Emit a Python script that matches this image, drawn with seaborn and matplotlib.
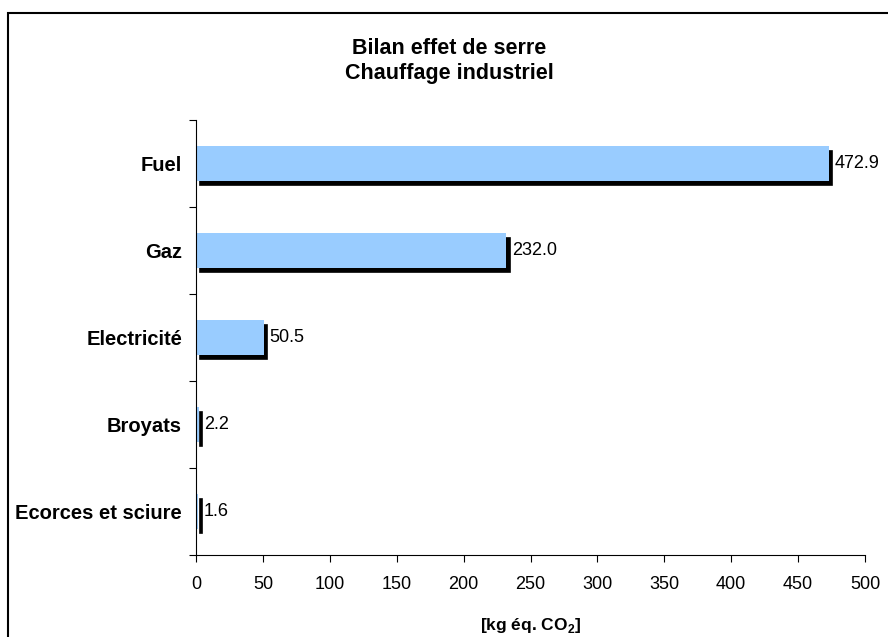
import matplotlib
matplotlib.use('Agg')
import matplotlib.pyplot as plt
import matplotlib.transforms as mtransforms
from matplotlib.patches import Rectangle
import pandas as pd
import seaborn as sns

categories = ['Fuel', 'Gaz', 'Electricité', 'Broyats', 'Ecorces et sciure']
values = [472.9, 232.0, 50.5, 2.2, 1.6]
x_ticks = [0, 50, 100, 150, 200, 250, 300, 350, 400, 450, 500]

df = pd.DataFrame({'source': categories, 'co2': values})

sns.set_style('white')
plt.rcParams['font.family'] = ['Liberation Sans', 'DejaVu Sans']
plt.rcParams['text.color'] = 'black'
plt.rcParams['xtick.color'] = 'black'
plt.rcParams['ytick.color'] = 'black'
plt.rcParams['axes.labelcolor'] = 'black'
plt.rcParams['mathtext.fontset'] = 'custom'
plt.rcParams['mathtext.bf'] = 'Liberation Sans:bold'
plt.rcParams['mathtext.rm'] = 'Liberation Sans'

fig = plt.figure(figsize=(8.88, 6.37), dpi=100)
ax = fig.add_axes([196 / 888, 1 - 555 / 637, (865 - 196) / 888, (555 - 120) / 637])

# black shadow bars, shifted a few pixels right and down
sns.barplot(data=df, x='co2', y='source', orient='h', color='black',
            width=0.4, saturation=1, ax=ax)
shift = mtransforms.ScaledTranslation(3.5 / 100, -4.5 / 100, fig.dpi_scale_trans)
for p in ax.patches:
    p.set_transform(ax.transData + shift)
    p.set_edgecolor('black')
    p.set_linewidth(1.2)
n_shadow = len(ax.patches)

sns.barplot(data=df, x='co2', y='source', orient='h', color='#99CCFF',
            width=0.4, saturation=1, ax=ax)
for p in ax.patches[n_shadow:]:
    p.set_linewidth(0)

ax.bar_label(ax.containers[-1], labels=[f'{v:.1f}' for v in values],
             padding=4, fontsize=13)

ax.set_xlim(0, 500)
ax.set_ylim(len(categories) - 0.5, -0.5)
ax.set_xticks(x_ticks)
ax.set_yticks(range(len(categories)))
ax.set_yticks([i - 0.5 for i in range(len(categories) + 1)], minor=True)
ax.tick_params(axis='y', which='major', length=0, pad=10, labelsize=14.5)
ax.tick_params(axis='y', which='minor', length=5, width=0.8, direction='out', left=True)
ax.tick_params(axis='x', length=5, width=0.8, direction='out', bottom=True, labelsize=13, pad=10)
for lab in ax.get_yticklabels():
    lab.set_fontweight('bold')

ax.set_ylabel('')
ax.set_xlabel(r'[kg éq. CO$_{\mathbf{2}}$]', fontsize=12.5, fontweight='bold', labelpad=17)

for side in ['top', 'right']:
    ax.spines[side].set_visible(False)
for side in ['left', 'bottom']:
    ax.spines[side].set_color('black')
    ax.spines[side].set_linewidth(0.8)

fig.text(449 / 888, 1 - 61 / 637, 'Bilan effet de serre\nChauffage industriel',
         ha='center', va='center', fontsize=15.5, fontweight='bold', linespacing=1.3)

fig.patches.append(Rectangle((8 / 888, -0.1), 1.0, 1 - 13 / 637 + 0.1,
                             transform=fig.transFigure, fill=False,
                             linewidth=1.5, edgecolor='black'))

fig.savefig('out.png', dpi=100)
